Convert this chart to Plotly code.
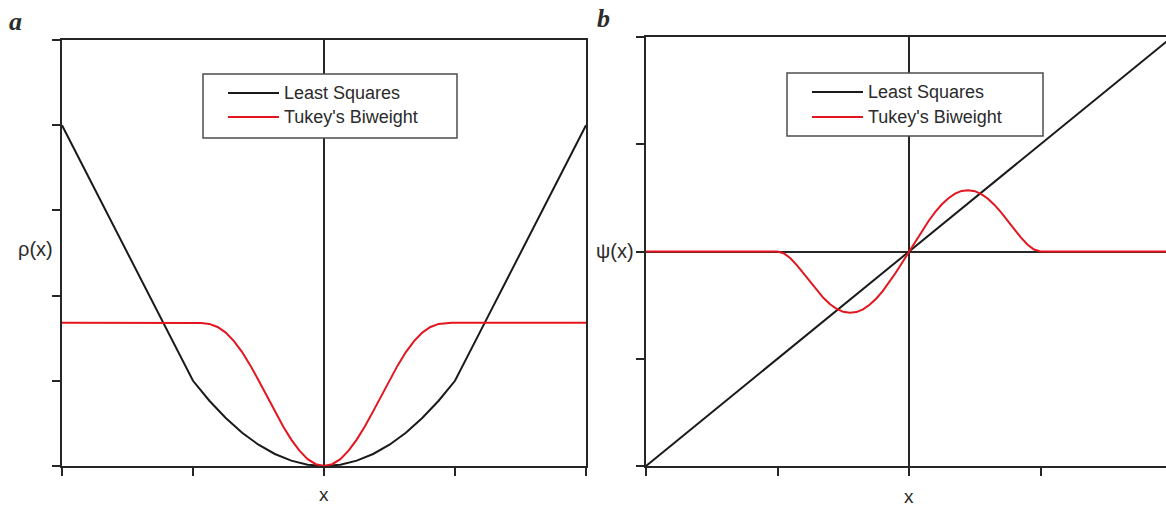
import plotly.graph_objects as go

W, H = 1166, 508

# ---- panel a: rho(x) ----
rho_ls_x = [-4, -3.5, -3, -2.5, -2, -1.75, -1.5, -1.25, -1, -0.75, -0.5, -0.25, 0,
            0.25, 0.5, 0.75, 1, 1.25, 1.5, 1.75, 2, 2.5, 3, 3.5, 4]
rho_ls_y = [4, 3.25, 2.5, 1.75, 1, 0.766, 0.563, 0.391, 0.25, 0.141, 0.063, 0.016, 0,
            0.016, 0.063, 0.141, 0.25, 0.391, 0.563, 0.766, 1, 1.75, 2.5, 3.25, 4]

rho_tk_x = [-4, -3, -2.5, -1.95, -1.875, -1.75, -1.625, -1.5, -1.375, -1.25, -1.125, -1,
            -0.875, -0.75, -0.625, -0.5, -0.375, -0.25, -0.125, 0,
            0.125, 0.25, 0.375, 0.5, 0.625, 0.75, 0.875, 1,
            1.125, 1.25, 1.375, 1.5, 1.625, 1.75, 1.875, 1.95, 2.5, 3, 4]
rho_tk_y = [1.68, 1.68, 1.68, 1.68, 1.679, 1.668, 1.632, 1.566, 1.466, 1.337, 1.181, 1.007,
            0.824, 0.641, 0.466, 0.31, 0.18, 0.081, 0.021, 0,
            0.021, 0.081, 0.18, 0.31, 0.466, 0.641, 0.824, 1.007,
            1.181, 1.337, 1.466, 1.566, 1.632, 1.668, 1.679, 1.68, 1.68, 1.68, 1.68]

# ---- panel b: psi(x) ----
psi_ls_x = [-2, 2]
psi_ls_y = [-2, 2]

psi_tk_x = [-2, -1.5, -1.0, -0.95, -0.9, -0.85, -0.8, -0.75, -0.7, -0.65, -0.6, -0.55, -0.5,
            -0.45, -0.4, -0.35, -0.3, -0.25, -0.2, -0.15, -0.1, -0.05, 0,
            0.05, 0.1, 0.15, 0.2, 0.25, 0.3, 0.35, 0.4, 0.45, 0.5,
            0.55, 0.6, 0.65, 0.7, 0.75, 0.8, 0.85, 0.9, 0.95, 1.0, 1.5, 2]
psi_tk_y = [0, 0, 0, -0.018, -0.065, -0.131, -0.207, -0.287, -0.364, -0.434, -0.492, -0.535, -0.5625,
            -0.572, -0.565, -0.539, -0.497, -0.44, -0.369, -0.287, -0.196, -0.0995, 0,
            0.0995, 0.196, 0.287, 0.369, 0.44, 0.497, 0.539, 0.565, 0.572, 0.5625,
            0.535, 0.492, 0.434, 0.364, 0.287, 0.207, 0.131, 0.065, 0.018, 0, 0, 0]

rho_ticks_x = [-4, -2, 0, 2, 4]
rho_ticks_y = [0, 1, 2, 3, 4, 5]
psi_ticks_x = [-2, -1, 0, 1]
psi_ticks_y = [-2, -1, 0, 1, 2]

series_names = ["Least Squares", "Tukey's Biweight"]

BLACK = "#1a1a1a"
RED = "#e3161f"
AXIS = "#262626"
TEXT = "#2b2b2b"


def px(x):
    return x / W


def py(y):
    return 1 - y / H


fig = go.Figure()
fig.add_trace(go.Scatter(x=rho_ls_x, y=rho_ls_y, mode="lines", name=series_names[0],
                         line=dict(color=BLACK, width=2), xaxis="x", yaxis="y", showlegend=False))
fig.add_trace(go.Scatter(x=rho_tk_x, y=rho_tk_y, mode="lines", name=series_names[1],
                         line=dict(color=RED, width=2), xaxis="x", yaxis="y", showlegend=False))
fig.add_trace(go.Scatter(x=psi_ls_x, y=psi_ls_y, mode="lines", name=series_names[0],
                         line=dict(color=BLACK, width=2), xaxis="x2", yaxis="y2", showlegend=False))
fig.add_trace(go.Scatter(x=psi_tk_x, y=psi_tk_y, mode="lines", name=series_names[1],
                         line=dict(color=RED, width=2), xaxis="x2", yaxis="y2", showlegend=False))

axis_common = dict(showgrid=False, showticklabels=False, ticks="outside", ticklen=8,
                   tickwidth=1.5, tickcolor=AXIS, showline=True, linecolor=AXIS, linewidth=1.5,
                   zerolinecolor=AXIS, zerolinewidth=1.5)

fig.update_layout(
    width=W, height=H,
    margin=dict(l=0, r=0, t=0, b=0),
    paper_bgcolor="white", plot_bgcolor="white",
    xaxis=dict(domain=[px(62), px(586)], range=[-4, 4], tickvals=rho_ticks_x,
               mirror=True, zeroline=True, anchor="y", **axis_common),
    yaxis=dict(domain=[py(466), py(40)], range=[0, 5], tickvals=rho_ticks_y,
               mirror=True, zeroline=False, anchor="x", **axis_common),
    xaxis2=dict(domain=[px(646), 1.0], range=[-2, 1.954], tickvals=psi_ticks_x,
                mirror=True, zeroline=True, anchor="y2", **axis_common),
    yaxis2=dict(domain=[py(466), py(37)], range=[-2, 2], tickvals=psi_ticks_y,
                mirror=False, zeroline=True, anchor="x2", **axis_common),
)

shapes = []
annotations = []


def legend_box(x0, y0, x1, y1, lx0, lx1, rows, tx):
    shapes.append(dict(type="rect", xref="paper", yref="paper",
                       x0=px(x0), x1=px(x1), y0=py(y1), y1=py(y0),
                       line=dict(color="#4d4d4d", width=1.5), fillcolor="white", layer="above"))
    for (ry, color), name in zip(rows, series_names):
        shapes.append(dict(type="line", xref="paper", yref="paper",
                           x0=px(lx0), x1=px(lx1), y0=py(ry), y1=py(ry),
                           line=dict(color=color, width=2), layer="above"))
        annotations.append(dict(text=name, xref="paper", yref="paper", x=px(tx), y=py(ry),
                                xanchor="left", yanchor="middle", showarrow=False,
                                font=dict(family="Liberation Sans, Arial", size=18, color=TEXT)))


legend_box(203, 74, 457, 138, 228, 279, [(93, BLACK), (117, RED)], 282)
legend_box(787, 73, 1043, 136, 812, 863, [(92, BLACK), (117, RED)], 866)


def label(text, x, y, size, family="Liberation Sans, Arial"):
    annotations.append(dict(text=text, xref="paper", yref="paper", x=px(x), y=py(y),
                            xanchor="center", yanchor="middle", showarrow=False,
                            font=dict(family=family, size=size, color=TEXT)))


label("<b><i>a</i></b>", 15, 21, 26, "Liberation Serif, Times New Roman")
label("<b><i>b</i></b>", 603, 18, 26, "Liberation Serif, Times New Roman")
label("ρ(x)", 35, 249, 20)
label("ψ(x)", 615, 251, 20)
label("x", 324, 494, 19)
label("x", 909, 496, 19)

fig.update_layout(shapes=shapes, annotations=annotations)
fig.write_html("out.html")
